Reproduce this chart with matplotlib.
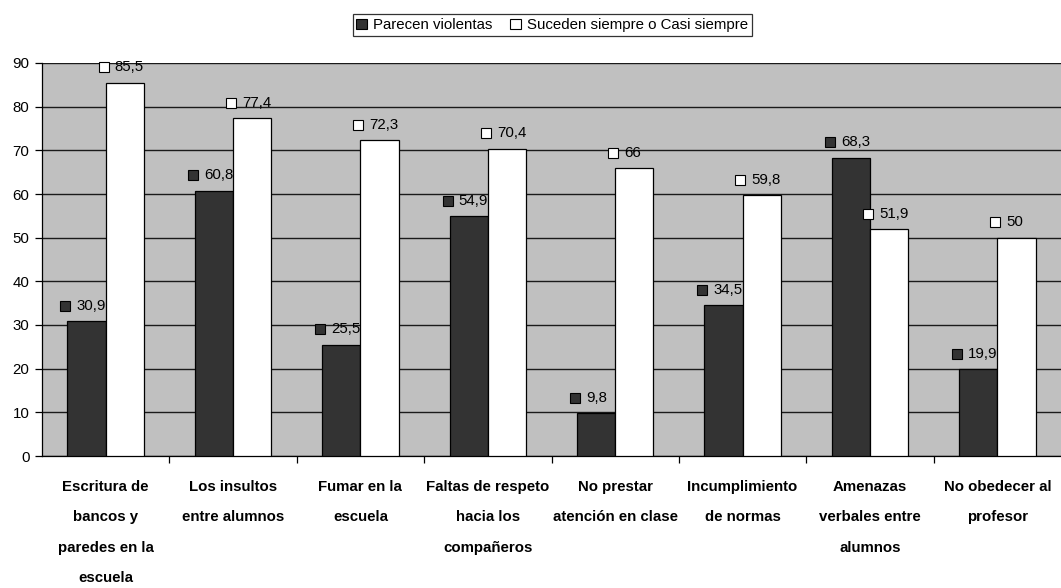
import matplotlib
matplotlib.use("Agg")
import matplotlib.pyplot as plt
from matplotlib.patches import Patch
from matplotlib.transforms import offset_copy

plt.rcParams['font.family'] = ['Liberation Sans', 'DejaVu Sans']

categories = [
    "Escritura de\nbancos y\nparedes en la\nescuela",
    "Los insultos\nentre alumnos",
    "Fumar en la\nescuela",
    "Faltas de respeto\nhacia los\ncompañeros",
    "No prestar\natención en clase",
    "Incumplimiento\nde normas",
    "Amenazas\nverbales entre\nalumnos",
    "No obedecer al\nprofesor",
]
parecen_violentas = [30.9, 60.8, 25.5, 54.9, 9.8, 34.5, 68.3, 19.9]
suceden_siempre = [85.5, 77.4, 72.3, 70.4, 66, 59.8, 51.9, 50]
series_names = ["Parecen violentas", "Suceden siempre o Casi siempre"]
y_ticks = [0, 10, 20, 30, 40, 50, 60, 70, 80, 90]

dark = "#333333"
light = "#ffffff"
bg = "#c0c0c0"
fs = 10.8

fig = plt.figure(figsize=(10.61, 5.88), dpi=100)
ax = fig.add_axes([42 / 1061, 1 - 456 / 588, 1 - 42 / 1061, (456 - 63) / 588])
ax.set_facecolor(bg)

width = 0.3
xs = list(range(len(categories)))
for series, color, shift in ((parecen_violentas, dark, -width / 2),
                             (suceden_siempre, light, width / 2)):
    pos = [x + shift for x in xs]
    ax.bar(pos, series, width=width, color=color, edgecolor="black",
           linewidth=0.9, zorder=3)
    for p, v in zip(pos, series):
        left = p - width / 2
        mtrans = offset_copy(ax.transData, fig=fig, x=-1.5, y=11, units="points")
        ax.plot([left], [v], marker="s", markersize=7.3, markerfacecolor=color,
                markeredgecolor="black", markeredgewidth=0.8,
                transform=mtrans, zorder=5, clip_on=False)
        ax.annotate(f"{v:g}".replace(".", ","), xy=(left, v),
                    xytext=(6.5, 11), textcoords="offset points",
                    ha="left", va="center", fontsize=fs, zorder=5)

ax.set_xlim(-0.5, len(categories) - 0.5)
ax.set_ylim(0, 90)
ax.set_yticks(y_ticks)
ax.yaxis.grid(True, color="#1a1a1a", linewidth=1.0, zorder=1)
ax.set_axisbelow(True)
ax.tick_params(axis="y", length=5, width=0.9, labelsize=fs, pad=4)

ax.set_xticks(xs)
ax.set_xticklabels(categories, fontsize=fs, fontweight="bold", linespacing=2.5,
                   va="top")
ax.tick_params(axis="x", length=0, pad=17)
ax.set_xticks([x + 0.5 for x in xs[:-1]], minor=True)
ax.tick_params(axis="x", which="minor", length=5, width=0.9)

for s in ("top", "right"):
    ax.spines[s].set_visible(False)
for s in ("left", "bottom"):
    ax.spines[s].set_color("black")
    ax.spines[s].set_linewidth(0.9)

handles = [Patch(facecolor=dark, edgecolor="black", linewidth=0.8),
           Patch(facecolor=light, edgecolor="black", linewidth=0.8)]
leg = fig.legend(handles, series_names, loc="center", ncol=2,
                 bbox_to_anchor=(552 / 1061, 1 - 25 / 588), fontsize=fs,
                 frameon=True, fancybox=False, edgecolor="black",
                 handlelength=0.7, handleheight=0.7, handletextpad=0.4,
                 columnspacing=1.2, borderpad=0.25, borderaxespad=0)
leg.get_frame().set_linewidth(0.9)

fig.savefig("out.png", dpi=100)
